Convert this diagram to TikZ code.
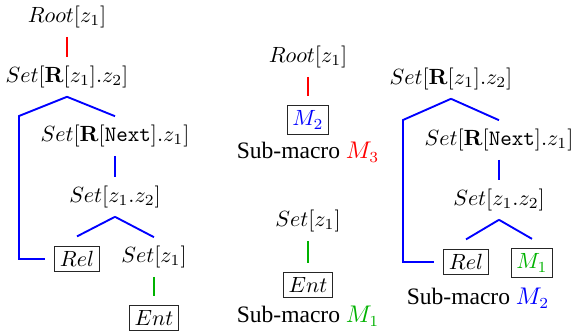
\documentclass[tikz,border=0pt]{standalone}
\usepackage{amsmath,amssymb}
\usepackage[no-math]{fontspec}
\newfontfamily\capfont{Liberation Serif}
\usepackage{tikz}

\colorlet{mgreen}{green!70!black}

\begin{document}
\begin{tikzpicture}[x=0.4545pt, y=-0.4545pt,
  lbl/.style={inner sep=4pt, outer sep=0pt},
  leaf/.style={draw=black!85, inner sep=2.3pt, outer sep=4.5pt},
  caption/.style={font={\capfont\fontsize{10.7}{13}\selectfont}, inner sep=0pt},
  br/.style={line width=0.85pt}]

  \useasboundingbox (0,0) rectangle (572,333);

  % left tree: the whole macro
  \node[lbl] (rootA) at (67,17) {$Root[z_1]$};
  \node[lbl] (setA) at (67,77) {$Set[\mathbf{R}[z_1].z_2]$};
  \node[lbl] (nextA) at (115,136) {$Set[\mathbf{R}[\mathtt{Next}].z_1]$};
  \node[lbl] (pairA) at (115,197) {$Set[z_1.z_2]$};
  \node[leaf] (relA) at (77,259) {$Rel$};
  \node[lbl] (entsetA) at (154,257) {$Set[z_1]$};
  \node[leaf] (entA) at (154,318) {$Ent$};
  \coordinate (bendA) at (19,116);

  \draw[br, red] (rootA) -- (setA);
  \draw[br, blue] (setA.south) -- (nextA.north);
  \draw[br, blue] (setA.south) -- (bendA) |- (relA.west);
  \draw[br, blue] (nextA) -- (pairA);
  \draw[br, blue] (pairA.south) -- (relA.north);
  \draw[br, blue] (pairA.south) -- (entsetA.north);
  \draw[br, mgreen] (entsetA) -- (entA);

  % middle: sub-macros M3 and M1
  \node[lbl] (rootB) at (308,57) {$Root[z_1]$};
  \node[leaf, text=blue] (mtwoB) at (308,120) {$M_2$};
  \node[caption] (capB) at (308,152) {Sub-macro \textcolor{red}{$M_3$}};
  \draw[br, red] (rootB) -- (mtwoB);

  \node[lbl] (setC) at (308,221) {$Set[z_1]$};
  \node[leaf] (entC) at (308,285) {$Ent$};
  \node[caption] (capC) at (308,316) {Sub-macro \textcolor{mgreen}{$M_1$}};
  \draw[br, mgreen] (setC) -- (entC);

  % right tree: sub-macro M2
  \node[lbl] (setD) at (451,79) {$Set[\mathbf{R}[z_1].z_2]$};
  \node[lbl] (nextD) at (499,140) {$Set[\mathbf{R}[\mathtt{Next}].z_1]$};
  \node[lbl] (pairD) at (499,200) {$Set[z_1.z_2]$};
  \node[leaf] (relD) at (466,262) {$Rel$};
  \node[leaf, text=mgreen] (moneD) at (532,263) {$M_1$};
  \node[caption] (capD) at (478,298) {Sub-macro \textcolor{blue}{$M_2$}};
  \coordinate (bendD) at (403,120);

  \draw[br, blue] (setD.south) -- (nextD.north);
  \draw[br, blue] (setD.south) -- (bendD) |- (relD.west);
  \draw[br, blue] (nextD) -- (pairD);
  \draw[br, blue] (pairD.south) -- (relD.north);
  \draw[br, blue] (pairD.south) -- (moneD.north);

\end{tikzpicture}
\end{document}
